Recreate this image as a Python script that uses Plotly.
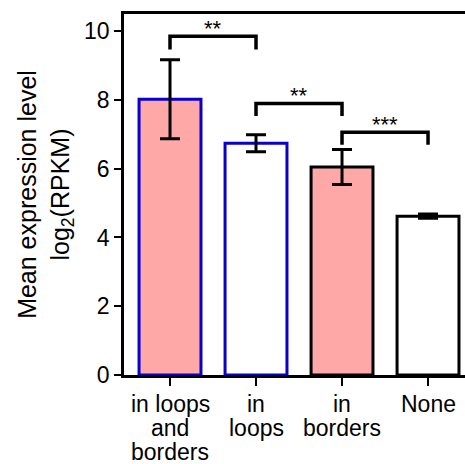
import plotly.graph_objects as go

categories = ["in loops<br>and<br>borders", "in<br>loops", "in<br>borders", "None"]
means = [8.02, 6.74, 6.05, 4.62]
errors = [1.15, 0.25, 0.51, 0.06]
fill_colors = ["#ffa8a8", "#ffffff", "#ffa8a8", "#ffffff"]
edge_colors = ["#0a00c8", "#0a00c8", "#000000", "#000000"]

# significance brackets: (left idx, right idx, top, leg bottom, label)
br_left = [0, 1, 2]
br_right = [1, 2, 3]
br_top = [9.85, 7.9, 7.06]
br_leg = [9.47, 7.53, 6.7]
br_label = ["**", "**", "***"]

FONT = "Liberation Sans, Arial, sans-serif"
FS = 23

fig = go.Figure()
fig.add_trace(go.Bar(
    x=list(range(len(categories))), y=means,
    width=0.72,
    marker=dict(color=fill_colors, line=dict(color=edge_colors, width=3)),
    error_y=dict(type="data", array=errors, visible=True, color="black", thickness=3, width=10),
    showlegend=False,
))

for l, r, t, b, lab in zip(br_left, br_right, br_top, br_leg, br_label):
    fig.add_shape(type="path",
                  path=f"M {l} {b} L {l} {t} L {r} {t} L {r} {b}",
                  xref="x", yref="y", line=dict(color="black", width=3.5))
    fig.add_annotation(x=(l + r) / 2, y=t, text=lab, showarrow=False,
                       xref="x", yref="y", yanchor="bottom", yshift=-7,
                       font=dict(family=FONT, size=22, color="black"))

# x category labels, one annotation per line for tight line spacing
for i, cat in enumerate(categories):
    for j, line in enumerate(cat.split("<br>")):
        fig.add_annotation(x=i, y=0, xref="x", yref="y", text=line, showarrow=False,
                           yanchor="middle", xanchor="center", yshift=-(29 + 24 * j),
                           font=dict(family=FONT, size=FS, color="black"))

fig.update_layout(
    width=465, height=464,
    margin=dict(l=124, r=0, t=14, b=89),
    plot_bgcolor="white", paper_bgcolor="white",
    font=dict(family=FONT, size=FS, color="black"),
)
fig.update_xaxes(
    range=[-0.535, 3.43],
    tickmode="array", tickvals=list(range(len(categories))), showticklabels=False,
    showline=True, linecolor="black", linewidth=2.5, mirror=True,
    ticks="outside", ticklen=8, tickwidth=2, tickcolor="black",
    showgrid=False, zeroline=False,
)
fig.update_yaxes(
    range=[0, 10.5],
    tickvals=[0, 2, 4, 6, 8, 10],
    showline=True, linecolor="black", linewidth=2.5,
    ticks="outside", ticklen=7, tickwidth=2, tickcolor="black",
    showgrid=False, zeroline=False,
    tickfont=dict(size=FS),
    title=dict(text="Mean expression level<br>log<sub>2</sub>(RPKM)", font=dict(size=25), standoff=8),
)

fig.write_html("out.html",
               config={"displayModeBar": False},
               post_script="document.body.style.margin='0';document.body.style.overflow='hidden';")
